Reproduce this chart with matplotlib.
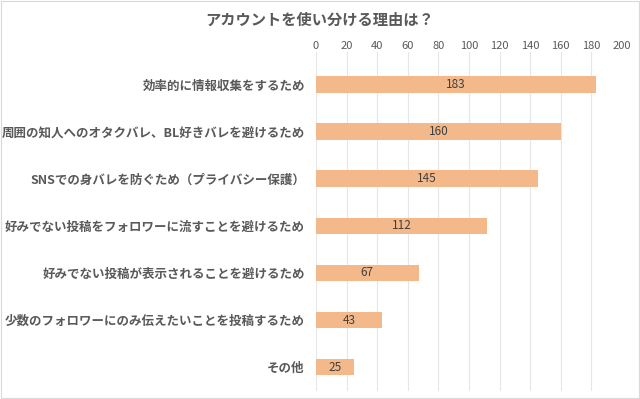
import matplotlib
matplotlib.use("Agg")
import matplotlib.pyplot as plt

plt.rcParams['font.family'] = ['Noto Sans CJK JP', 'DejaVu Sans']

categories = [
    "効率的に情報収集をするため",
    "周囲の知人へのオタクバレ、BL好きバレを避けるため",
    "SNSでの身バレを防ぐため（プライバシー保護）",
    "好みでない投稿をフォロワーに流すことを避けるため",
    "好みでない投稿が表示されることを避けるため",
    "少数のフォロワーにのみ伝えたいことを投稿するため",
    "その他",
]
values = [183, 160, 145, 112, 67, 43, 25]
xticks = list(range(0, 201, 20))

fig = plt.figure(figsize=(6.4, 3.99), dpi=100)
ax = fig.add_axes([316 / 640, 8 / 399, 306 / 640, 339 / 399])

ypos = list(range(len(categories)))
bars = ax.barh(ypos, values, height=0.36, color="#F4B98A")
ax.set_ylim(len(categories) - 0.49, -0.70)
ax.set_xlim(0, 200)

for b, v in zip(bars, values):
    ax.text(v / 2, b.get_y() + b.get_height() / 2, str(v), ha="center", va="center",
            fontsize=8.5, color="#404040")

ax.xaxis.tick_top()
ax.set_xticks(xticks)
ax.tick_params(axis="x", length=0, labelsize=8, labelcolor="#595959", pad=1)
ax.grid(axis="x", color="#E6E6E6", linewidth=0.8)
ax.set_axisbelow(True)
ax.set_yticks(ypos)
ax.set_yticklabels(categories, fontsize=9, fontweight="bold", color="#595959")
ax.tick_params(axis="y", length=0, pad=8)
for s in ax.spines.values():
    s.set_visible(False)

fig.text(0.5, 1 - 20 / 399, "アカウントを使い分ける理由は？", ha="center", va="center",
         fontsize=11, fontweight="bold", color="#595959")
fig.patches.append(plt.Rectangle((0.002, 0.003), 0.996, 0.994, transform=fig.transFigure,
                                 fill=False, edgecolor="#D9D9D9", linewidth=0.8))

fig.savefig("out.png", dpi=100)
